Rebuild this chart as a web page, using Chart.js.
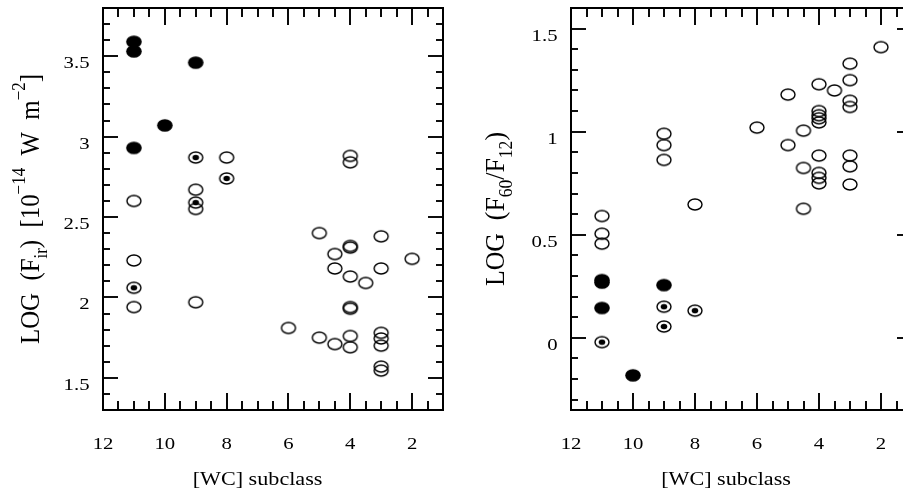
<!DOCTYPE html>
<html>
<head>
<meta charset="utf-8">
<script src="https://cdn.jsdelivr.net/npm/chart.js@4.4.1/dist/chart.umd.min.js"></script>
<style>
html, body { margin: 0; padding: 0; background: #fff; overflow: hidden; width: 903px; height: 493px; }
#leftChart { position: absolute; left: 0; top: 0; }
#rightChart { position: absolute; left: 451px; top: 0; }
</style>
</head>
<body>
<canvas id="leftChart" width="451" height="493" style="width:451px;height:493px"></canvas>
<canvas id="rightChart" width="470" height="493" style="width:470px;height:493px"></canvas>
<script>
// tick labels
const xTickValues = [12, 10, 8, 6, 4, 2];
const xTickLabels = ['12', '10', '8', '6', '4', '2'];
const leftYTickValues = [1.5, 2, 2.5, 3, 3.5];
const leftYTickLabels = ['1.5', '2', '2.5', '3', '3.5'];
const rightYTickValues = [0, 0.5, 1, 1.5];
const rightYTickLabels = ['0', '0.5', '1', '1.5'];

// left panel: LOG(F_ir) vs subclass
const leftFilledX = [11, 11, 9, 10, 11];
const leftFilledY = [3.59, 3.53, 3.46, 3.07, 2.93];
const leftDotX = [9, 8, 9, 11];
const leftDotY = [2.87, 2.74, 2.59, 2.06];
const leftOpenX = [11, 11, 11, 9, 9, 9, 8, 6, 5, 5, 4.5, 4.5, 4.5, 4, 4, 4, 4, 4, 4, 4, 4, 4, 3.5, 3, 3, 3, 3, 3, 3, 3, 2];
const leftOpenY = [2.60, 2.23, 1.94, 2.67, 2.55, 1.97, 2.87, 1.81, 2.40, 1.75, 2.27, 2.18, 1.71, 2.88, 2.84, 2.31, 2.32, 2.13, 1.93, 1.94, 1.76, 1.69, 2.09, 2.38, 2.18, 1.78, 1.745, 1.70, 1.57, 1.545, 2.24];

// right panel: LOG(F60/F12) vs subclass
const rightFilledX = [11, 11, 9, 11, 10];
const rightFilledY = [0.28, 0.268, 0.256, 0.145, -0.182];
const rightDotX = [9, 8, 9, 11];
const rightDotY = [0.151, 0.132, 0.055, -0.021];
const rightOpenX = [2, 3, 3, 4, 3.5, 5, 3, 3, 4, 4, 4, 4, 6, 4.5, 9, 9, 5, 4, 3, 9, 3, 4.5, 4, 4, 4, 3, 8, 4.5, 11, 11, 11];
const rightOpenY = [1.41, 1.33, 1.25, 1.23, 1.20, 1.18, 1.15, 1.12, 1.10, 1.08, 1.065, 1.045, 1.02, 1.005, 0.99, 0.935, 0.935, 0.884, 0.884, 0.863, 0.832, 0.824, 0.80, 0.776, 0.749, 0.744, 0.647, 0.626, 0.591, 0.505, 0.457];

const FONT = '"Liberation Serif", "Times New Roman", serif';

const makeMarker = (kind) => {
    const c = document.createElement('canvas');
    c.width = 18;
    c.height = 15;
    const g = c.getContext('2d');
    g.fillStyle = '#000';
    g.strokeStyle = '#000';
    if (kind === 'filled') {
        g.beginPath();
        g.ellipse(9, 7.5, 7.8, 6.3, 0, 0, Math.PI * 2);
        g.fill();
    } else {
        g.beginPath();
        g.ellipse(9, 7.5, 7.0, 5.5, 0, 0, Math.PI * 2);
        g.lineWidth = 1.4;
        g.stroke();
        if (kind === 'dot') {
            g.beginPath();
            g.ellipse(9, 7.5, 3.3, 2.7, 0, 0, Math.PI * 2);
            g.fill();
        }
    }
    return c;
};
const openMarker = makeMarker('open');
const filledMarker = makeMarker('filled');
const dotMarker = makeMarker('dot');

const toPoints = (xs, ys) => xs.map((v, i) => ({ x: v, y: ys[i] }));

const drawStretched = (ctx, text, x, y, align, sx) => {
    ctx.save();
    ctx.translate(x, y);
    ctx.scale(sx, 1);
    ctx.textAlign = align;
    ctx.textBaseline = 'alphabetic';
    ctx.fillText(text, 0, 0);
    ctx.restore();
};

// rotated title with sub/superscripts, fitted to a given length
const drawRotatedTitle = (ctx, parts, cx, cy, size, sx, length) => {
    const fontFor = p => `${(p.sub || p.sup) ? Math.round(size * 0.7) : size}px ${FONT}`;
    ctx.save();
    let total = 0;
    parts.forEach(p => { ctx.font = fontFor(p); total += ctx.measureText(p.t).width; });
    ctx.translate(cx, cy);
    ctx.scale(sx, 1);
    ctx.rotate(-Math.PI / 2);
    ctx.scale(length / total, 1);
    ctx.textAlign = 'left';
    ctx.textBaseline = 'alphabetic';
    let pos = -total / 2;
    parts.forEach(p => {
        ctx.font = fontFor(p);
        const dy = p.sub ? size * 0.3 : (p.sup ? -size * 0.5 : 0);
        ctx.fillText(p.t, pos, dy);
        pos += ctx.measureText(p.t).width;
    });
    ctx.restore();
};

// frame and inward ticks, same steps on both panels
const X_MINOR = 0.5, Y_MINOR = 0.1;

const drawTicks = (chart) => {
    const { ctx, chartArea: a } = chart;
    const xs = chart.scales.x, ys = chart.scales.y;
    const left = Math.round(a.left), right = Math.round(a.right);
    const top = Math.round(a.top), bottom = Math.round(a.bottom);
    ctx.save();
    ctx.strokeStyle = '#000';
    ctx.lineWidth = 1.6;
    ctx.beginPath();
    for (let i = 2; i <= 24; i++) {
        const px = Math.round(xs.getPixelForValue(i * X_MINOR));
        const len = i % 4 === 0 ? 17 : 9;
        ctx.moveTo(px, bottom);
        ctx.lineTo(px, bottom - len);
        ctx.moveTo(px, top);
        ctx.lineTo(px, top + len);
    }
    const yStart = Math.ceil(ys.min / Y_MINOR - 1e-6), yEnd = Math.floor(ys.max / Y_MINOR + 1e-6);
    for (let i = yStart; i <= yEnd; i++) {
        const py = Math.round(ys.getPixelForValue(i * Y_MINOR));
        const len = i % 5 === 0 ? 15 : 7;
        ctx.moveTo(left, py);
        ctx.lineTo(left + len, py);
        ctx.moveTo(right, py);
        ctx.lineTo(right - len, py);
    }
    ctx.stroke();
    ctx.restore();
};

const framePlugin = {
    id: 'frame',
    beforeDatasetsDraw(chart) {
        drawTicks(chart);
    },
    afterDraw(chart) {
        const { ctx, chartArea: a } = chart;
        const xs = chart.scales.x, ys = chart.scales.y;
        const cfg = chart.config.options.plugins.frame;
        const left = Math.round(a.left), right = Math.round(a.right);
        const top = Math.round(a.top), bottom = Math.round(a.bottom);
        drawTicks(chart);
        ctx.save();
        ctx.fillStyle = '#000';
        ctx.fillRect(left - 1, top - 1, right - left + 2, 2);
        ctx.fillRect(left - 1, bottom - 1, right - left + 2, 2);
        ctx.fillRect(left - 1, top - 1, 2, bottom - top + 2);
        ctx.fillRect(right - 1, top - 1, 2, bottom - top + 2);

        ctx.font = `17px ${FONT}`;
        xTickValues.forEach((v, i) => {
            drawStretched(ctx, xTickLabels[i], xs.getPixelForValue(v), 449, 'center', 1.22);
        });
        cfg.yValues.forEach((v, i) => {
            drawStretched(ctx, cfg.yLabels[i], left - 13.5, ys.getPixelForValue(v) + 12, 'right', 1.22);
        });

        ctx.font = `18px ${FONT}`;
        drawStretched(ctx, '[WC] subclass', xs.getPixelForValue(7), 485, 'center', 1.23);
        drawRotatedTitle(ctx, cfg.yTitle, cfg.yTitleX, (top + bottom) / 2, 19, 1.45, cfg.yTitleLength);
        ctx.restore();
    }
};

const makeChart = (id, open, dot, filled, yMin, yMax, yAxisWidth, padRight, frameOpts) => new Chart(document.getElementById(id), {
    type: 'scatter',
    data: {
        datasets: [
            { data: open, pointStyle: openMarker, pointRadius: 7 },
            { data: dot, pointStyle: dotMarker, pointRadius: 7 },
            { data: filled, pointStyle: filledMarker, pointRadius: 7 }
        ]
    },
    options: {
        responsive: false,
        animation: false,
        events: [],
        layout: { padding: { top: 7, right: padRight, left: 0, bottom: 0 } },
        plugins: { legend: { display: false }, tooltip: { enabled: false }, frame: frameOpts },
        scales: {
            x: {
                type: 'linear', min: 1, max: 12, reverse: true,
                grid: { display: false }, ticks: { display: false },
                afterFit: s => { s.height = 83; }
            },
            y: {
                type: 'linear', min: yMin, max: yMax,
                grid: { display: false }, ticks: { display: false },
                afterFit: s => { s.width = yAxisWidth; }
            }
        }
    },
    plugins: [framePlugin]
});

makeChart('leftChart',
    toPoints(leftOpenX, leftOpenY), toPoints(leftDotX, leftDotY), toPoints(leftFilledX, leftFilledY),
    1.3, 3.8, 103, 7, {
        yValues: leftYTickValues, yLabels: leftYTickLabels,
        yTitleX: 39, yTitleLength: 270,
        yTitle: [
            { t: 'LOG  (F' }, { t: 'ir', sub: true }, { t: ')  [10' },
            { t: '\u221214', sup: true }, { t: '  W  m' }, { t: '\u22122', sup: true }, { t: ']' }
        ]
    });

makeChart('rightChart',
    toPoints(rightOpenX, rightOpenY), toPoints(rightDotX, rightDotY), toPoints(rightFilledX, rightFilledY),
    -0.35, 1.6, 120, 9, {
        yValues: rightYTickValues, yLabels: rightYTickLabels,
        yTitleX: 53, yTitleLength: 154,
        yTitle: [
            { t: 'LOG  (F' }, { t: '60', sub: true }, { t: '/F' }, { t: '12', sub: true }, { t: ')' }
        ]
    });
</script>
</body>
</html>
